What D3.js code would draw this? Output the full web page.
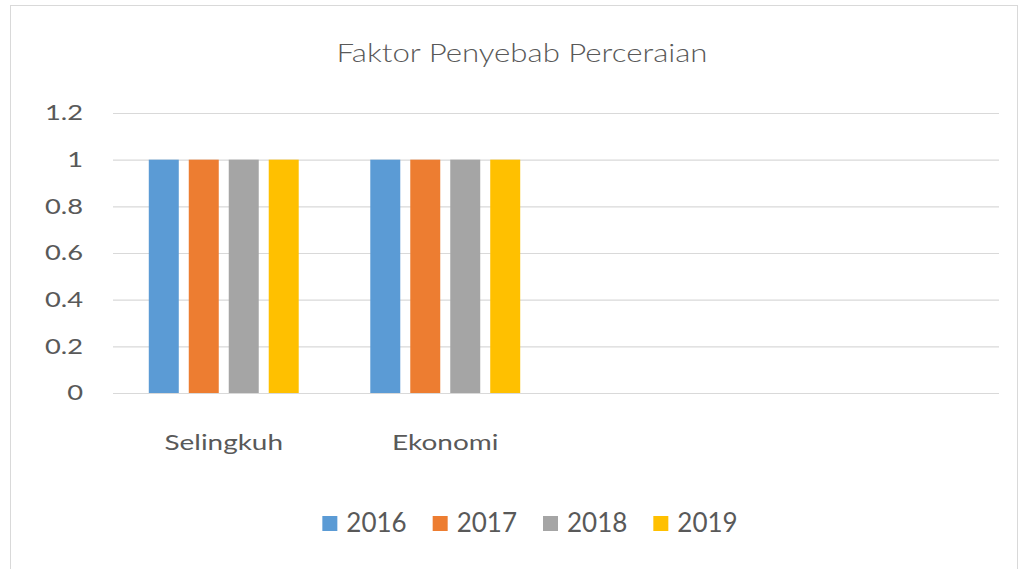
<!DOCTYPE html>
<html>
<head>
<meta charset="utf-8">
<script src="https://cdn.jsdelivr.net/npm/d3@7"></script>
<style>
  body { margin: 0; background: #fff; }
  text { font-family: Lato, 'Open Sans', sans-serif; fill: #595959; }
</style>
</head>
<body>
<div id="chart"></div>
<script>
// chart data
const categories = ["Selingkuh", "Ekonomi", "", ""];
const years = ["2016", "2017", "2018", "2019"];
const values2016 = [1, 1, null, null];
const values2017 = [1, 1, null, null];
const values2018 = [1, 1, null, null];
const values2019 = [1, 1, null, null];
const yTicks = [0, 0.2, 0.4, 0.6, 0.8, 1, 1.2];
const colors = ["#5b9bd5", "#ed7d31", "#a5a5a5", "#ffc000"];

const series = [values2016, values2017, values2018, values2019];

let width = 1021, height = 569;

let margin = {
  top: 113,
  bottom: 176,
  left: 113,
  right: 22
};

let svg = d3.select('#chart')
  .append('svg')
  .attr('width', width)
  .attr('height', height);

// outer border
svg.append('rect')
  .attr('x', 10.5)
  .attr('y', 5.5)
  .attr('width', 1007)
  .attr('height', 575)
  .attr('fill', 'none')
  .attr('stroke', '#d9d9d9');

let x0 = d3.scaleBand()
  .domain(d3.range(categories.length))
  .range([margin.left, width - margin.right])
  .paddingInner(0.278)
  .paddingOuter(0.139);

let x1 = d3.scaleBand()
  .domain(years)
  .range([0, x0.bandwidth()])
  .paddingInner(0.25)
  .paddingOuter(0.125);

let yscale = d3.scaleLinear()
  .domain([0, 1.2])
  .range([height - margin.bottom, margin.top]);

// gridlines + y labels
let yAxis = svg.append('g')
  .attr('transform', `translate(${margin.left},0)`)
  .call(d3.axisLeft(yscale)
    .tickValues(yTicks)
    .tickFormat(d => d)
    .tickSize(-(width - margin.left - margin.right))
    .tickPadding(30));

yAxis.select('.domain').remove();
yAxis.selectAll('line').attr('stroke', '#d9d9d9').attr('stroke-width', 1.2);
// the reference text is a little wider than the font, stretch it
yAxis.selectAll('text')
  .attr('x', 0)
  .attr('transform', 'translate(-30,0) scale(1.3,1)')
  .style('font-size', '21px')
  .style('fill', '#595959');

// x labels
let xAxis = svg.append('g')
  .attr('transform', `translate(0,${height - margin.bottom})`)
  .call(d3.axisBottom(x0).tickFormat(i => categories[i]).tickSize(0));

xAxis.select('.domain').remove();
xAxis.selectAll('text')
  .attr('y', 0)
  .attr('dy', 0)
  .attr('transform', 'translate(0,57) scale(1.27,1)')
  .style('font-size', '22px')
  .style('fill', '#595959');

// bars
years.forEach(function(yr, k) {
  svg.append('g')
    .selectAll('rect')
    .data(series[k].map((v, i) => ({ i: i, v: v })).filter(d => d.v != null))
    .join('rect')
    .attr('x', d => x0(d.i) + x1(yr))
    .attr('y', d => yscale(d.v))
    .attr('width', x1.bandwidth())
    .attr('height', d => yscale(0) - yscale(d.v))
    .attr('fill', colors[k]);
});

// title
svg.append('text')
  .attr('transform', 'translate(522,62) scale(1.2,1)')
  .attr('text-anchor', 'middle')
  .style('font-size', '26px')
  .style('font-weight', 300)
  .style('fill', '#595959')
  .text('Faktor Penyebab Perceraian');

// legend
let legend = svg.append('g');
let cursor = 0;
years.forEach(function(yr, k) {
  let item = legend.append('g').attr('transform', `translate(${cursor},0)`);
  item.append('rect')
    .attr('x', 0)
    .attr('y', -16)
    .attr('width', 15)
    .attr('height', 15)
    .attr('fill', colors[k]);
  let t = item.append('text')
    .attr('x', 24)
    .attr('y', 0)
    .style('font-size', '26px')
    .text(yr);
  cursor += 24 + t.node().getComputedTextLength() + 26;
});
let legendWidth = cursor - 26;
legend.attr('transform', `translate(${530 - legendWidth / 2},532)`);
</script>
</body>
</html>
